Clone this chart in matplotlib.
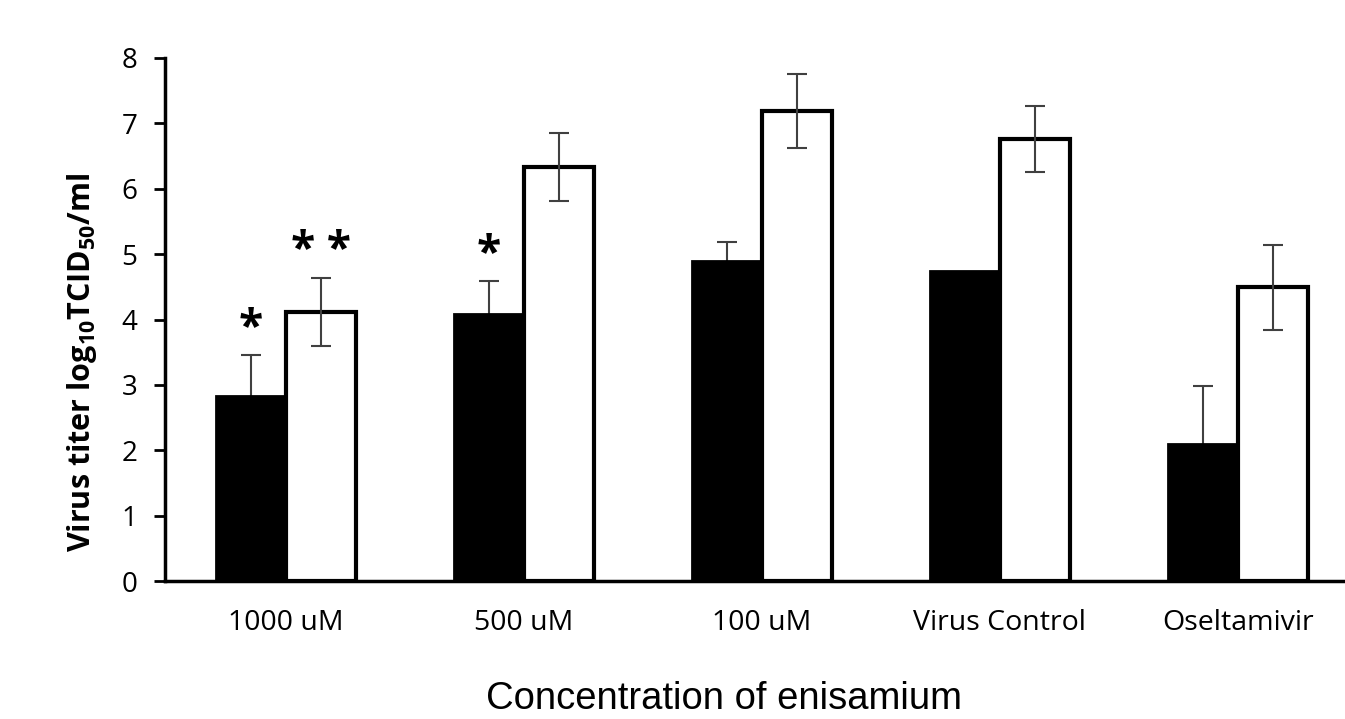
import numpy as np
import matplotlib.pyplot as plt

# Data
groups = ['1000 uM', '500 uM', '100 uM', 'Virus Control', 'Oseltamivir']
black_vals = [2.83, 4.09, 4.89, 4.74, 2.10]
black_err = [0.62, 0.50, 0.30, 0.0, 0.88]
white_vals = [4.11, 6.33, 7.19, 6.76, 4.49]
white_err = [0.52, 0.52, 0.57, 0.51, 0.65]
black_marks = ['*', '*', '', '', '']
white_marks = ['**', '', '', '', '']

plt.rcParams['font.family'] = ['Open Sans', 'DejaVu Sans']
plt.rcParams['mathtext.fontset'] = 'custom'
plt.rcParams['mathtext.rm'] = 'Open Sans'
plt.rcParams['mathtext.bf'] = 'Open Sans:bold'

W, H = 1345, 719
fig = plt.figure(figsize=(W / 100, H / 100), dpi=100)
ax = fig.add_axes([165 / W, (H - 581) / H, 1 - 165 / W, 523 / H])

x = np.arange(len(groups))
w = 0.293
ax.bar(x - w / 2, black_vals, w, color='black', edgecolor='black', linewidth=2, zorder=3)
ax.bar(x + w / 2, white_vals, w, color='white', edgecolor='black', linewidth=3, zorder=3)

ecol = '#404040'
# black bar errors sit behind the bars, so only the upper half shows
has_err = np.array(black_err) > 0
ax.errorbar((x - w / 2)[has_err], np.array(black_vals)[has_err],
            yerr=np.array(black_err)[has_err], fmt='none',
            ecolor=ecol, elinewidth=1.5, capsize=7, capthick=1.5, zorder=2)
ax.errorbar(x + w / 2, white_vals, yerr=white_err, fmt='none',
            ecolor=ecol, elinewidth=1.5, capsize=7, capthick=1.5, zorder=4)

for i in range(len(x)):
    if black_marks[i]:
        ax.text(x[i] - w / 2, black_vals[i] + black_err[i] + 0.06, black_marks[i],
                ha='center', va='bottom', fontsize=32, fontweight='bold')
    if white_marks[i]:
        ax.text(x[i] + w / 2, white_vals[i] + white_err[i] + 0.06, ' '.join(white_marks[i]),
                ha='center', va='bottom', fontsize=32, fontweight='bold')

ax.set_xlim(-0.508, 4.45)
ax.set_ylim(0, 8)
ax.set_yticks(range(0, 9))
ax.set_xticks(x)
ax.set_xticklabels(groups, fontsize=20.5)
ax.tick_params(axis='x', length=0, pad=20)
ax.tick_params(axis='y', labelsize=20, width=2, length=8, direction='out', pad=12)

for s in ['top', 'right']:
    ax.spines[s].set_visible(False)
ax.spines['left'].set_linewidth(2.5)
ax.spines['bottom'].set_linewidth(2.5)
ax.spines['bottom'].set_zorder(5)

fig.text(82 / W, 1 - 362 / H, r'Virus titer log$_\mathbf{10}$TCID$_\mathbf{50}$/ml',
         rotation=90, ha='center', va='center', fontsize=22, fontweight='bold')
fig.text(724 / W, 2 / H, 'Concentration of enisamium', ha='center', va='bottom',
         fontsize=27.5, family='Liberation Sans')

fig.savefig('out.png', dpi=100)
